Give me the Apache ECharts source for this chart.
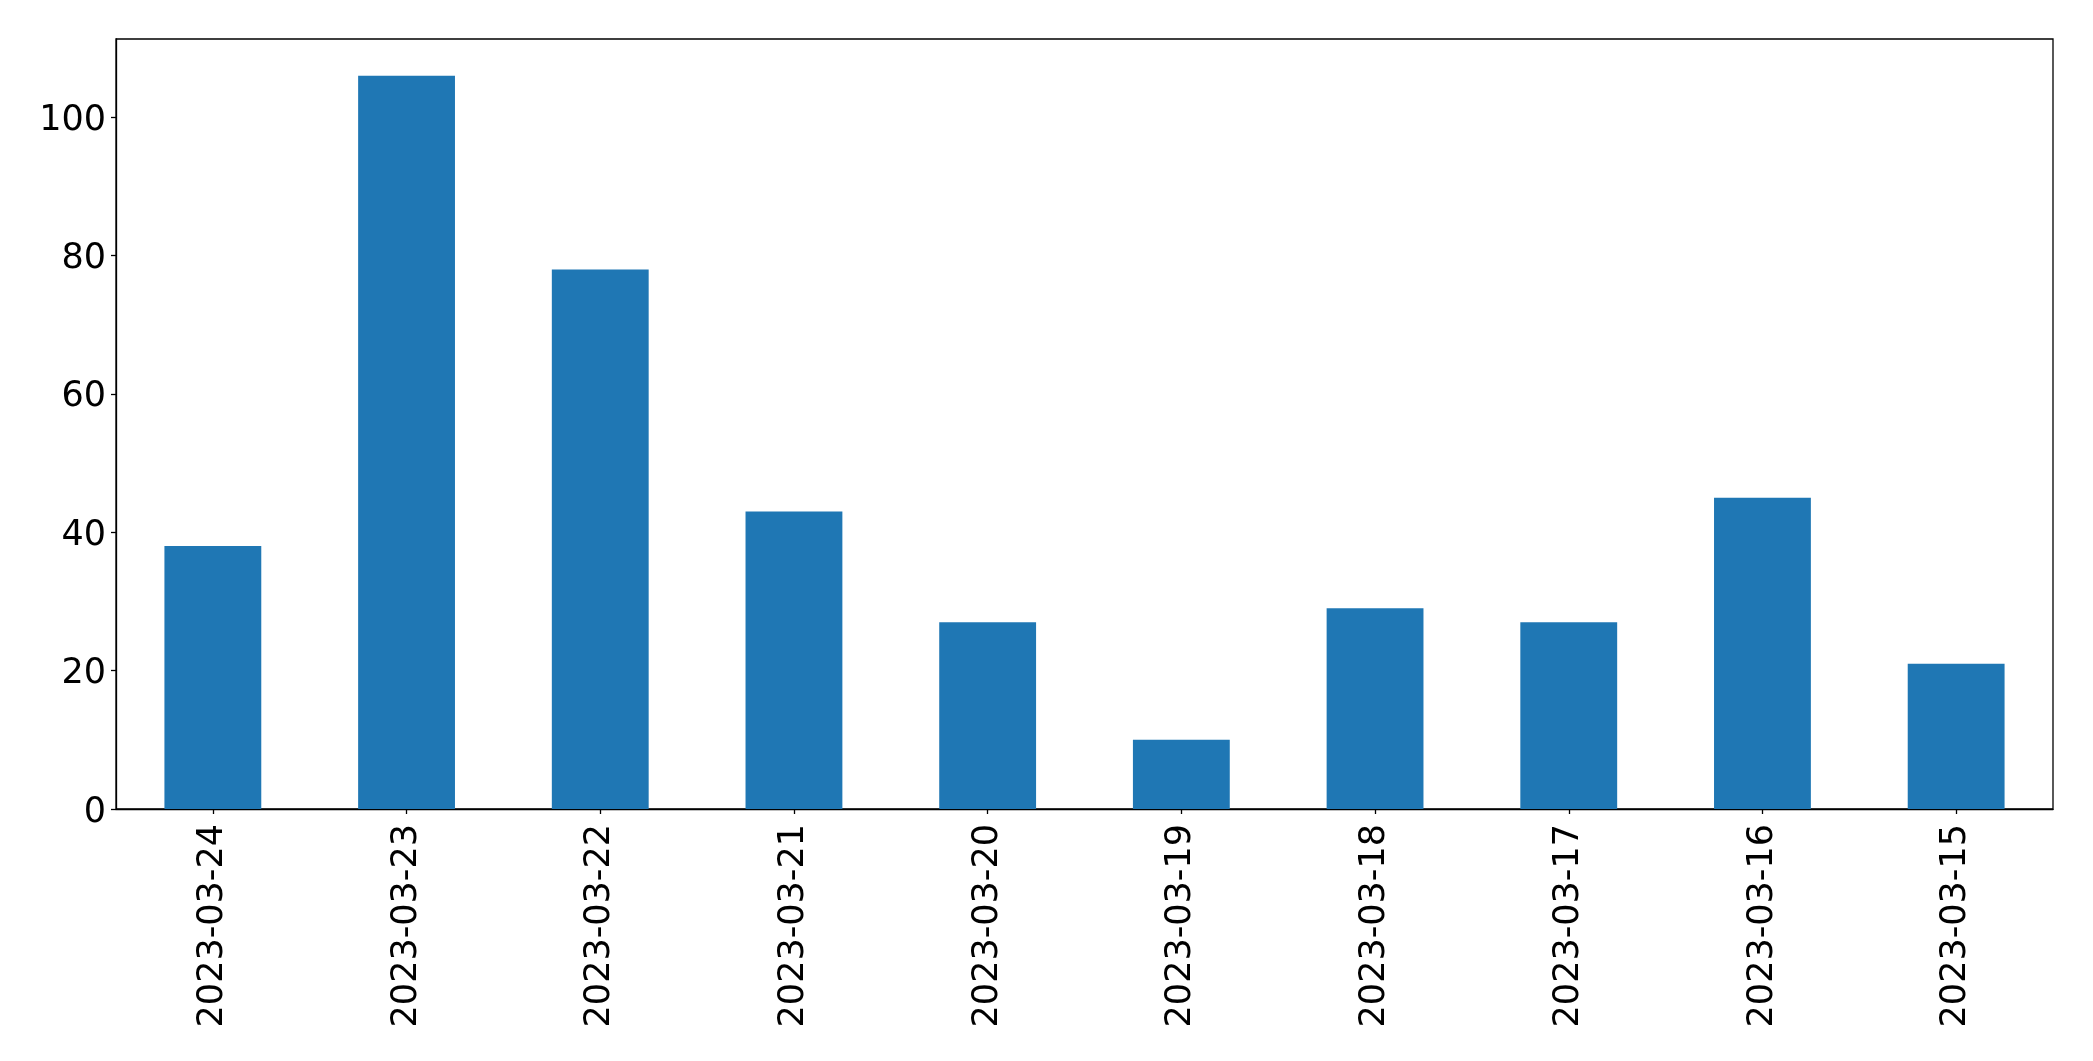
<!DOCTYPE html>
<html>
<head>
<meta charset="utf-8">
<script src="https://cdn.jsdelivr.net/npm/echarts@6/dist/echarts.min.js"></script>
<style>
html,body{margin:0;padding:0;background:#fff;}
#chart{width:2093px;height:1061px;}
</style>
</head>
<body>
<div id="chart"></div>
<script>
const categories = ['2023-03-24','2023-03-23','2023-03-22','2023-03-21','2023-03-20','2023-03-19','2023-03-18','2023-03-17','2023-03-16','2023-03-15'];
const values = [38, 106, 78, 43, 27, 10, 29, 27, 45, 21];
const yMax = 111.3;

const chart = echarts.init(document.getElementById('chart'), null, {renderer:'canvas'});
chart.setOption({
  animation: false,
  backgroundColor: '#fff',
  textStyle: {fontFamily: 'DejaVu Sans'},
  grid: {left: 116, top: 39, right: 40, bottom: 252, show: true, borderColor: '#000', borderWidth: 1.3, containLabel: false},
  xAxis: {
    type: 'category',
    data: categories,
    boundaryGap: true,
    axisLine: {show: true, lineStyle: {color: '#000', width: 1.3}},
    axisTick: {show: true, alignWithLabel: true, length: 5, lineStyle: {color: '#000', width: 1.3}},
    axisLabel: {rotate: 90, margin: 15, fontSize: 35, color: '#000', fontFamily: 'DejaVu Sans', interval: 0}
  },
  yAxis: {
    type: 'value',
    min: 0, max: yMax, interval: 20,
    splitLine: {show: false},
    axisLine: {show: true, lineStyle: {color: '#000', width: 1.3}},
    axisTick: {show: true, length: 5, lineStyle: {color: '#000', width: 1.3}},
    axisLabel: {margin: 10, fontSize: 35, color: '#000', fontFamily: 'DejaVu Sans', showMaxLabel: false,
      rich: {a: {fontSize: 35, color: '#000', fontFamily: 'DejaVu Sans', padding: [7, 0, 0, 0]}},
      formatter: v => (v % 20 === 0 ? '{a|' + v + '}' : '')}
  },
  series: [{
    type: 'bar',
    data: values,
    barWidth: '50%',
    itemStyle: {color: '#1f77b4'}
  }]
});
</script>
</body>
</html>
